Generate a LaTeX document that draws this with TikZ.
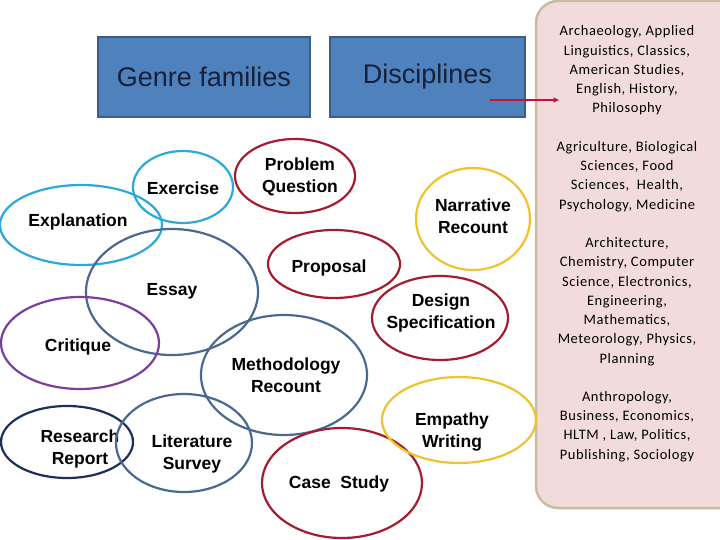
\documentclass[tikz,border=0pt]{standalone}
\usepackage{fontspec}
\setmainfont{Liberation Sans}
\newfontfamily\panelfont{Carlito}[LetterSpace=4]
\usetikzlibrary{arrows.meta,positioning,shapes.geometric}
\definecolor{boxblue}{HTML}{4F81BD}
\definecolor{boxline}{HTML}{3B5D87}
\definecolor{headtext}{HTML}{16203A}
\definecolor{panelpink}{HTML}{F2DCDB}
\definecolor{paneltan}{HTML}{C7BE9F}
\definecolor{arrowred}{HTML}{C0143A}
\definecolor{ringcyan}{HTML}{2CA8DA}
\definecolor{ringred}{HTML}{A51C30}
\definecolor{ringslate}{HTML}{4A6890}
\definecolor{ringpurple}{HTML}{7A3E9D}
\definecolor{ringnavy}{HTML}{1A2F5C}
\definecolor{ringgold}{HTML}{F2C12E}
\tikzset{head/.style={draw=boxline,fill=boxblue,line width=1.5pt,minimum height=80pt,font=\fontsize{27}{30}\selectfont,text=headtext}, panelbox/.style={draw=paneltan,fill=panelpink,line width=2.5pt,rounded corners=22pt}, field/.style={align=center,inner sep=0pt,font=\panelfont\fontsize{14.5}{19.25}\selectfont}, ring/.style={ellipse,draw=#1,line width=2.2pt,inner sep=0pt}, word/.style={align=center,inner sep=0pt,font=\fontsize{17.5}{21.5}\selectfont\bfseries}, flow/.style={-{Latex[length=6pt,width=6pt]},line width=2.5pt,draw=arrowred}}
\begin{document}
\begin{tikzpicture}[x=1pt,y=-1pt]
\useasboundingbox (0,0) rectangle (720,540);
\clip (0,0) rectangle (720,540);
% discipline panel on the right
\node[panelbox,minimum width=210pt,minimum height=507pt] (panel) at (641,254.5) {};
\node[field] (hum) at (627,70.5) {Archaeology, Applied\\Linguistics, Classics,\\American Studies,\\English, History,\\Philosophy};
\node[field] (life) at (627,176.5) {Agriculture, Biological\\Sciences, Food\\Sciences,\ \ Health,\\Psychology, Medicine};
\node[field] (phys) at (627,301.5) {Architecture,\\Chemistry, Computer\\Science, Electronics,\\Engineering,\\Mathematics,\\Meteorology, Physics,\\Planning};
\node[field] (soc) at (627,426.5) {Anthropology,\\Business, Economics,\\HLTM , Law, Politics,\\Publishing, Sociology};
% headings
\node[head,minimum width=212pt] (genre) at (204,77) {Genre families};
\node[head,minimum width=195pt] (disc) at (427.5,77) {Disciplines};
\coordinate (tail) at (490,100);
\draw[flow] (tail) -- (tail -| hum.west);
% genre families
\node[ring=ringcyan,minimum width=100pt,minimum height=72pt] (exercise) at (183,187) {};
\node[word] (exercisetxt) at (183,188) {Exercise};
\node[ring=ringcyan,minimum width=162pt,minimum height=80pt] (explanation) at (81,225) {};
\node[word] (explanationtxt) at (78,222) {Explanation};
\node[ring=ringred,minimum width=120pt,minimum height=74pt] (problem) at (295,176) {};
\node[word] (problemtxt) at (300,177) {Problem\\Question};
\node[ring=ringred,minimum width=132pt,minimum height=68pt] (proposal) at (334,264) {};
\node[word] (proposaltxt) at (329,268) {Proposal};
\node[ring=ringslate,minimum width=172pt,minimum height=126pt] (essay) at (172,292) {};
\node[word] (essaytxt) at (172,291) {Essay};
\node[ring=ringpurple,minimum width=158pt,minimum height=92pt] (critique) at (80,343) {};
\node[word] (critiquetxt) at (78,347) {Critique};
\node[ring=ringslate,minimum width=166pt,minimum height=120pt] (method) at (284,375) {};
\node[word] (methodtxt) at (286,375) {Methodology\\Recount};
\node[ring=ringnavy,minimum width=132pt,minimum height=72pt] (research) at (67,442) {};
\node[word] (researchtxt) at (80,449) {Research\\Report};
\node[ring=ringslate,minimum width=136pt,minimum height=98pt] (litsurvey) at (184,443) {};
\node[word] (litsurveytxt) at (192,454) {Literature\\Survey};
\node[ring=ringred,minimum width=160pt,minimum height=110pt] (casestudy) at (342,483) {};
\node[word] (casestudytxt) at (339,484) {Case\ \ Study};
\node[ring=ringgold,minimum width=114pt,minimum height=102pt] (narrative) at (473,219) {};
\node[word] (narrativetxt) at (473,216) {Narrative\\Recount};
\node[ring=ringred,minimum width=136pt,minimum height=84pt] (design) at (440,318) {};
\node[word] (designtxt) at (441,313) {Design\\Specification};
\node[ring=ringgold,minimum width=154pt,minimum height=86pt] (empathy) at (459,420) {};
\node[word] (empathytxt) at (452,432) {Empathy\\Writing};
\end{tikzpicture}
\end{document}
